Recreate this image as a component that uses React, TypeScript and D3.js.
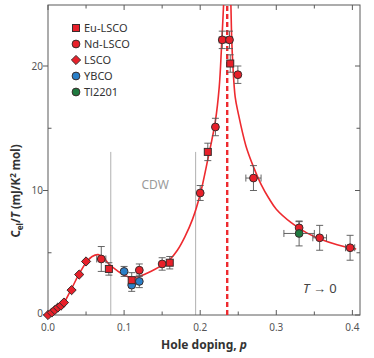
import React, { useRef, useEffect } from 'react';
import * as d3 from 'd3';

const W = 374;
const H = 358;

// points: [p, C/T, errY, errX]
const euLsco = [
  [0.08, 3.7, 0.5, 0],
  [0.11, 2.8, 0.6, 0],
  [0.16, 4.2, 0.5, 0],
  [0.21, 13.1, 0.7, 0],
  [0.2395, 20.2, 0.7, 0]
];
const ndLsco = [
  [0.07, 4.5, 1.0, 0.006],
  [0.12, 3.6, 0.5, 0],
  [0.15, 4.1, 0.5, 0],
  [0.2, 9.8, 0.6, 0],
  [0.22, 15.1, 0.7, 0],
  [0.229, 22.1, 0.7, 0.004],
  [0.2385, 22.1, 0.7, 0.004],
  [0.2495, 19.3, 0.7, 0],
  [0.27, 11.0, 1.0, 0.01],
  [0.33, 7.0, 0.5, 0],
  [0.357, 6.2, 1.0, 0.009],
  [0.397, 5.4, 1.0, 0.006]
];
const lsco = [
  [0, 0, 0, 0],
  [0.005, 0.2, 0, 0],
  [0.009, 0.4, 0, 0],
  [0.013, 0.6, 0, 0],
  [0.017, 0.75, 0, 0],
  [0.021, 1.0, 0, 0],
  [0.031, 2.0, 0, 0],
  [0.041, 3.25, 0, 0],
  [0.05, 4.3, 0, 0]
];
const ybco = [
  [0.1, 3.5, 0.4, 0],
  [0.11, 2.4, 0.5, 0],
  [0.12, 2.7, 0.5, 0]
];
const tl2201 = [[0.33, 6.55, 1.0, 0.02]];

// fitted curve (two branches around p*)
const curveLeft = [
  [0, 0], [0.01, 0.35], [0.02, 0.9], [0.03, 2.0], [0.04, 3.2], [0.05, 4.2],
  [0.058, 4.7], [0.066, 4.85], [0.073, 4.6], [0.08, 4.1], [0.09, 3.6],
  [0.1, 3.2], [0.11, 3.02], [0.12, 3.1], [0.13, 3.35], [0.14, 3.65],
  [0.15, 4.0], [0.16, 4.45], [0.17, 5.2], [0.18, 6.3], [0.19, 7.7],
  [0.2, 9.7], [0.21, 12.5], [0.22, 15.6], [0.225, 18.3], [0.228, 21.5],
  [0.2305, 24.6], [0.232, 27]
];
const curveRight = [
  [0.2395, 27], [0.2405, 24.5], [0.2415, 22], [0.243, 20], [0.246, 17.5],
  [0.25, 16.2], [0.26, 13.6], [0.27, 11.9], [0.28, 10.5], [0.29, 9.4],
  [0.3, 8.5], [0.32, 7.4], [0.34, 6.6], [0.36, 6.05], [0.38, 5.65],
  [0.4, 5.35], [0.405, 5.3]
];
const pStar = 0.2355;
const cdwBounds = [0.0825, 0.194];
const cdwTop = 13.1;

const xMajor = [0, 0.1, 0.2, 0.3, 0.4];
const xMinor = [0.05, 0.15, 0.25, 0.35];
const yMajor = [0, 10, 20];
const yMinor = [5, 15];

const legend = [
  { label: 'Eu-LSCO', shape: 'square', color: '#e8202a' },
  { label: 'Nd-LSCO', shape: 'circle', color: '#e8202a' },
  { label: 'LSCO', shape: 'diamond', color: '#e8202a' },
  { label: 'YBCO', shape: 'circle', color: '#2a7fc8' },
  { label: 'Tl2201', shape: 'circle', color: '#1f7a40' }
];

const RED = '#ee2a2f';
const FONT = '"Noto Sans", "Open Sans", sans-serif';

const App = () => {
  const svgRef = useRef(null);

  useEffect(() => {
    const svg = d3.select(svgRef.current);
    svg.selectAll('*').remove();

    const x = d3.scaleLinear().domain([0, 0.41]).range([48, 360]);
    const y = d3.scaleLinear().domain([0, 24.9]).range([315, 5]);
    const [x0, x1] = x.range();
    const [y0, y1] = y.range();

    svg
      .append('defs')
      .append('clipPath')
      .attr('id', 'plot-clip')
      .append('rect')
      .attr('x', x0)
      .attr('y', y1)
      .attr('width', x1 - x0)
      .attr('height', y0 - y1);

    // CDW bounds
    cdwBounds.forEach(p => {
      svg
        .append('line')
        .attr('x1', x(p))
        .attr('x2', x(p))
        .attr('y1', y(0))
        .attr('y2', y(cdwTop))
        .attr('stroke', '#b0b0b0')
        .attr('stroke-width', 1);
    });
    svg
      .append('text')
      .attr('x', x((cdwBounds[0] + cdwBounds[1]) / 2) + 2)
      .attr('y', 189)
      .attr('text-anchor', 'middle')
      .attr('font-family', FONT)
      .attr('font-size', 12)
      .attr('fill', '#9a9a9a')
      .text('CDW');

    // frame
    svg
      .append('rect')
      .attr('x', x0)
      .attr('y', y1)
      .attr('width', x1 - x0)
      .attr('height', y0 - y1)
      .attr('fill', 'none')
      .attr('stroke', '#5a5a5a')
      .attr('stroke-width', 1);

    const tickG = svg.append('g').attr('stroke', '#5a5a5a').attr('stroke-width', 1);
    xMajor.concat(xMinor).forEach(p => {
      const len = xMajor.includes(p) ? 5 : 3.5;
      tickG.append('line').attr('x1', x(p)).attr('x2', x(p)).attr('y1', y0).attr('y2', y0 - len);
      tickG.append('line').attr('x1', x(p)).attr('x2', x(p)).attr('y1', y1).attr('y2', y1 + len);
    });
    yMajor.forEach(v => {
      tickG.append('line').attr('x1', x0 - 5).attr('x2', x0).attr('y1', y(v)).attr('y2', y(v));
      tickG.append('line').attr('x1', x1 - 5).attr('x2', x1).attr('y1', y(v)).attr('y2', y(v));
    });
    yMinor.forEach(v => {
      tickG.append('line').attr('x1', x0).attr('x2', x0 + 3.5).attr('y1', y(v)).attr('y2', y(v));
      tickG.append('line').attr('x1', x1 - 3.5).attr('x2', x1).attr('y1', y(v)).attr('y2', y(v));
    });

    svg
      .append('g')
      .selectAll('text')
      .data(xMajor)
      .join('text')
      .attr('x', d => x(d))
      .attr('y', 331)
      .attr('text-anchor', 'middle')
      .attr('font-family', FONT)
      .attr('font-size', 10)
      .attr('fill', '#555')
      .text(d => d3.format('.1f')(d));

    svg
      .append('g')
      .selectAll('text')
      .data(yMajor)
      .join('text')
      .attr('x', 43)
      .attr('y', d => y(d) + (d === 0 ? 2 : 3.5))
      .attr('text-anchor', 'end')
      .attr('font-family', FONT)
      .attr('font-size', 10)
      .attr('fill', '#555')
      .text(d => d);

    // fitted curve
    const lineGen = d3
      .line()
      .x(d => x(d[0]))
      .y(d => y(d[1]))
      .curve(d3.curveCatmullRom);
    const curveG = svg.append('g').attr('clip-path', 'url(#plot-clip)');
    [curveLeft, curveRight].forEach(c => {
      curveG
        .append('path')
        .attr('d', lineGen(c))
        .attr('fill', 'none')
        .attr('stroke', RED)
        .attr('stroke-width', 1.6);
    });
    curveG
      .append('line')
      .attr('x1', x(pStar))
      .attr('x2', x(pStar))
      .attr('y1', y0)
      .attr('y2', y1)
      .attr('stroke', RED)
      .attr('stroke-width', 2.4)
      .attr('stroke-dasharray', '5,3');

    // error bars
    const errG = svg.append('g').attr('stroke', '#555').attr('stroke-width', 0.9);
    const cap = 3.5;
    [euLsco, ndLsco, ybco, tl2201].forEach(series => {
      series.forEach(([p, v, ey, ex]) => {
        if (ey > 0) {
          errG.append('line').attr('x1', x(p)).attr('x2', x(p)).attr('y1', y(v - ey)).attr('y2', y(v + ey));
          [v - ey, v + ey].forEach(e =>
            errG.append('line').attr('x1', x(p) - cap).attr('x2', x(p) + cap).attr('y1', y(e)).attr('y2', y(e))
          );
        }
        if (ex > 0) {
          errG.append('line').attr('x1', x(p - ex)).attr('x2', x(p + ex)).attr('y1', y(v)).attr('y2', y(v));
          [p - ex, p + ex].forEach(e =>
            errG.append('line').attr('x1', x(e)).attr('x2', x(e)).attr('y1', y(v) - cap).attr('y2', y(v) + cap)
          );
        }
      });
    });

    const drawMarker = (g, shape, cx, cy, color) => {
      const common = s => s.attr('fill', color).attr('stroke', '#3a2c2c').attr('stroke-width', 1);
      if (shape === 'circle') {
        common(g.append('circle').attr('cx', cx).attr('cy', cy).attr('r', 3.9));
      } else if (shape === 'square') {
        common(g.append('rect').attr('x', cx - 3.5).attr('y', cy - 3.5).attr('width', 7).attr('height', 7));
      } else {
        const r = 4.6;
        common(
          g.append('path').attr('d', `M${cx},${cy - r}L${cx + r},${cy}L${cx},${cy + r}L${cx - r},${cy}Z`)
        );
      }
    };

    const markG = svg.append('g');
    lsco.forEach(([p, v]) => drawMarker(markG, 'diamond', x(p), y(v), '#e8202a'));
    ybco.forEach(([p, v]) => drawMarker(markG, 'circle', x(p), y(v), '#2a7fc8'));
    euLsco.forEach(([p, v]) => drawMarker(markG, 'square', x(p), y(v), '#e8202a'));
    ndLsco.forEach(([p, v]) => drawMarker(markG, 'circle', x(p), y(v), '#e8202a'));
    tl2201.forEach(([p, v]) => drawMarker(markG, 'circle', x(p), y(v), '#1f7a40'));

    // legend
    const legG = svg.append('g');
    legend.forEach((d, i) => {
      const ly = 28 + i * 16;
      drawMarker(legG, d.shape, 76, ly, d.color);
      legG
        .append('text')
        .attr('x', 84)
        .attr('y', ly + 4)
        .attr('font-family', FONT)
        .attr('font-size', 11)
        .attr('fill', '#333')
        .text(d.label);
    });

    // T -> 0
    const tt = svg
      .append('text')
      .attr('x', 303)
      .attr('y', 293)
      .attr('font-family', FONT)
      .attr('font-size', 13)
      .attr('fill', '#444');
    tt.append('tspan').attr('font-style', 'italic').text('T');
    tt.append('tspan').text(' → 0');

    // axis titles
    const xl = svg
      .append('text')
      .attr('x', 204)
      .attr('y', 349)
      .attr('text-anchor', 'middle')
      .attr('font-family', FONT)
      .attr('font-size', 12)
      .attr('font-weight', 'bold')
      .attr('fill', '#333');
    xl.append('tspan').text('Hole doping, ');
    xl.append('tspan').attr('font-style', 'italic').text('p');

    const yl = svg
      .append('text')
      .attr('transform', 'translate(20,191) rotate(-90)')
      .attr('text-anchor', 'middle')
      .attr('font-family', FONT)
      .attr('font-size', 11.5)
      .attr('font-weight', 'bold')
      .attr('fill', '#333');
    yl.append('tspan').text('C');
    yl.append('tspan').attr('font-size', 8).attr('dy', 3).text('el');
    yl.append('tspan').attr('dy', -3).text('/');
    yl.append('tspan').attr('font-style', 'italic').text('T');
    yl.append('tspan').text(' (mJ/K');
    yl.append('tspan').attr('font-size', 8).attr('dy', -4).text('2');
    yl.append('tspan').attr('dy', 4).text(' mol)');
  }, []);

  return (
    <svg
      ref={svgRef}
      width={W}
      height={H}
      style={{ position: 'absolute', left: 0, top: 0, background: '#fff' }}
    />
  );
};

export default App;
